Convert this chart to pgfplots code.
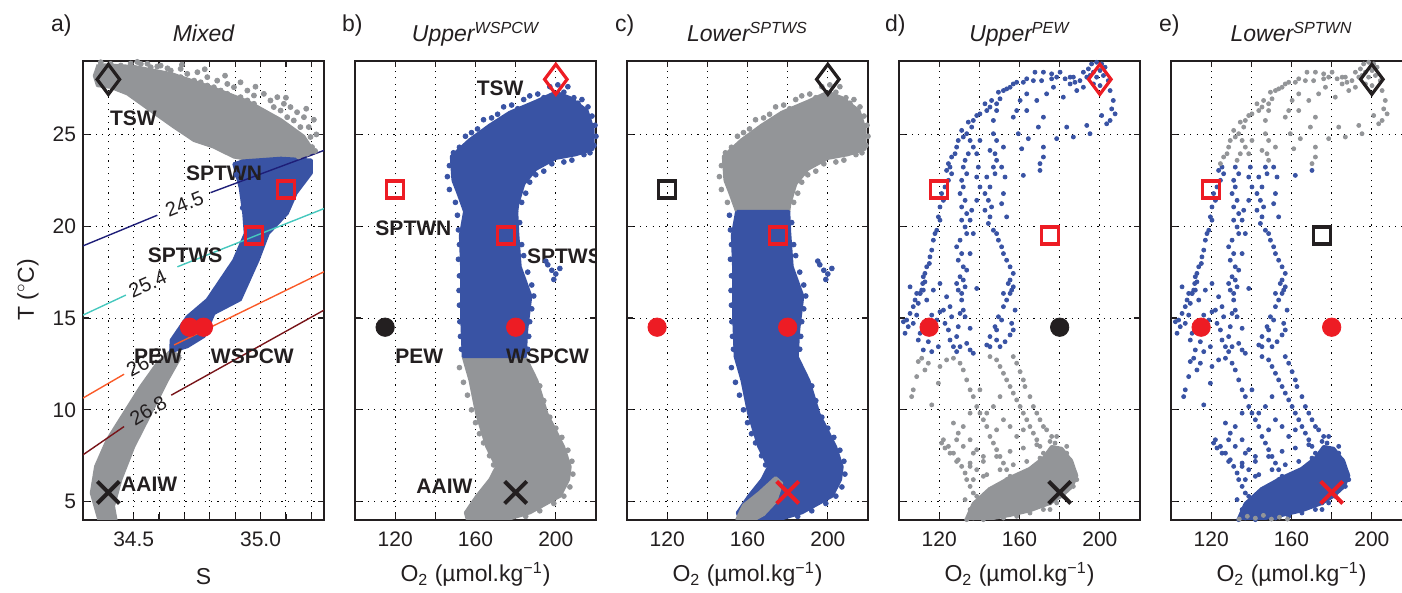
\documentclass[border=0pt]{standalone}
\usepackage{fontspec}
\setmainfont{Liberation Sans}
\usepackage{pgfplots}
\pgfplotsset{compat=1.18}
\usepackage{pgfplotstable}

\definecolor{blueS}{RGB}{57,83,164}
\definecolor{grayS}{RGB}{147,149,152}
\definecolor{redM}{RGB}{237,28,36}
\definecolor{blackM}{RGB}{35,31,32}
\definecolor{isoA}{RGB}{30,30,120}
\definecolor{isoB}{RGB}{70,200,190}
\definecolor{isoC}{RGB}{250,90,40}
\definecolor{isoD}{RGB}{120,20,25}

% ---------- panel a: T-S ----------
\pgfplotstableread{
x y
34.360 28.80
34.500 28.70
34.650 28.30
34.800 27.60
34.950 26.80
35.080 25.80
35.170 24.90
35.203 24.20
35.203 23.95
35.131 23.59
35.052 23.41
34.974 23.59
34.895 23.77
34.816 24.31
34.738 24.67
34.659 25.40
34.567 26.30
34.475 27.21
34.409 27.57
34.357 27.66
34.345 28.20
34.360 28.80
}\aGrayPoly

\pgfplotstableread{
x y
34.370 28.93
34.409 28.84
34.449 28.75
34.488 28.86
34.528 28.84
34.567 28.66
34.606 28.75
34.646 28.48
34.685 28.57
34.711 28.30
34.751 28.39
34.790 28.12
34.829 27.93
34.869 27.75
34.895 27.57
34.921 27.84
34.948 27.39
34.974 27.12
35.013 27.21
35.039 26.85
35.066 27.03
35.092 26.67
35.118 26.49
35.144 26.21
35.171 25.94
35.190 25.40
35.197 24.86
35.203 24.31
35.157 25.40
35.131 25.76
35.105 25.94
35.079 26.30
35.052 26.49
34.974 26.67
34.948 26.85
34.921 27.03
34.869 27.21
34.843 27.39
34.816 27.57
34.790 27.66
34.764 27.84
34.738 27.93
34.685 28.12
34.633 28.60
34.593 28.70
34.554 28.85
34.514 28.95
34.690 28.80
34.780 28.55
34.860 28.20
34.980 27.60
35.100 27.00
35.180 26.40
35.210 25.80
35.220 25.00
35.184 23.95
35.092 23.95
35.026 24.31
35.105 24.49
35.215 24.10
35.150 23.80
}\aGrayPts

\pgfplotstableread{
x y
34.930 23.55
35.080 23.70
35.200 23.60
35.200 22.90
35.140 21.80
35.105 20.70
35.030 19.60
34.990 18.15
34.920 16.00
34.816 15.25
34.777 14.00
34.711 13.44
34.646 13.17
34.648 13.80
34.711 15.07
34.790 16.00
34.895 18.15
34.940 19.60
34.934 20.70
34.920 22.10
34.895 23.40
34.930 23.55
}\aBluePoly

\pgfplotstableread{
x y
35.170 23.10
35.160 22.50
34.930 21.00
34.950 19.00
34.970 18.50
34.900 17.20
34.880 17.50
34.905 22.80
35.190 23.30
}\aBluePts

\pgfplotstableread{
x y
34.685 12.90
34.633 11.63
34.567 9.82
34.500 8.00
34.449 6.20
34.420 4.75
34.430 4.00
34.363 4.00
34.333 5.47
34.350 6.92
34.396 8.37
34.462 9.82
34.528 11.27
34.593 12.53
34.646 13.20
34.685 12.90
}\aTail

% ---------- panels b and c: profiles in the upper layers ----------
\pgfplotstableread{
x y
148.8 22.5
148.0 23.8
157.0 24.7
167.0 25.5
177.0 26.2
190.0 26.8
200.0 27.3
207.0 27.0
215.5 26.3
218.5 25.3
218.5 24.2
210.0 23.9
200.0 23.7
190.0 23.1
184.0 22.3
181.0 21.2
180.5 20.8
154.6 20.8
151.3 21.8
148.8 22.5
}\archPoly

\pgfplotstableread{
x y
154.6 20.8
180.5 20.8
181.0 19.6
182.2 17.8
187.5 16.2
185.5 14.4
184.7 12.9
153.9 12.9
153.1 15.25
153.1 17.8
152.5 19.5
154.6 20.8
}\midPoly

\pgfplotstableread{
x y
184.7 12.9
190.5 11.6
195.5 9.8
203.8 8.0
207.1 6.9
206.3 6.2
202.1 5.3
187.2 4.4
175.0 4.0
156.0 4.0
155.0 4.4
160.6 5.3
167.2 6.2
170.5 6.9
165.6 8.0
160.6 9.8
157.3 11.6
153.9 12.9
184.7 12.9
}\lowPoly

\pgfplotstableread{
x y
154.6 4.0
158.0 4.8
166.0 5.5
174.0 6.3
177.0 6.0
174.0 5.0
168.0 4.3
163.0 4.0
154.6 4.0
}\footPoly

\pgfplotstableread{
x y
147.0 23.3
149.0 24.0
152.0 24.3
155.0 24.9
158.0 25.1
161.0 25.3
164.0 25.8
168.0 25.9
171.0 26.1
174.0 26.5
178.0 26.6
181.0 26.4
184.0 26.9
187.0 27.1
191.0 27.2
194.0 27.0
197.0 27.6
201.0 27.7
204.0 27.3
206.0 27.6
209.0 27.0
211.0 26.7
213.0 26.9
216.0 26.5
218.0 26.0
219.5 25.5
220.0 24.9
219.0 24.4
217.0 24.0
214.0 23.9
212.0 24.2
208.0 23.6
204.0 23.5
198.0 23.4
194.0 23.0
190.0 22.8
187.0 22.4
185.0 21.8
183.0 21.3
182.0 20.2
183.0 19.0
184.0 18.4
146.0 22.7
147.0 22.0
150.0 21.3
151.0 20.6
151.5 19.8
152.0 19.0
151.5 18.2
152.0 17.3
151.8 16.5
152.0 15.7
152.2 14.8
152.5 14.0
153.0 13.3
186.0 17.5
188.0 16.8
189.0 16.2
188.0 15.5
187.0 14.8
186.5 14.0
186.0 13.3
196.0 17.9
198.0 17.6
200.0 17.4
202.0 17.7
199.0 17.1
195.0 18.1
192.0 11.3
194.0 10.5
197.0 9.6
200.0 9.0
203.0 8.5
206.0 7.8
208.0 7.2
208.5 6.5
207.0 5.8
204.0 5.3
199.0 4.9
192.0 4.5
185.0 4.2
152.0 12.3
154.0 11.5
156.0 10.8
158.0 10.0
160.0 9.3
162.0 8.7
164.0 8.2
167.0 7.5
169.0 7.0
}\bcDots

% ---------- panels d and e: profiles through the PEW ----------
\pgfplotstableread{
x y
195.9 28.84
198.4 28.93
200.9 28.84
202.6 28.66
200.1 28.48
196.8 28.39
195.1 28.21
198.4 28.12
201.8 28.21
204.2 27.93
200.1 27.66
196.8 27.75
193.5 28.12
191.8 28.39
190.1 27.93
186.8 28.12
185.2 27.75
188.5 27.39
191.8 27.57
194.3 28.57
185.2 28.12
187.6 27.84
205.1 27.39
206.7 26.85
205.9 26.39
207.6 26.12
203.4 25.58
205.1 25.76
200.9 26.03
167.7 28.39
171.9 28.39
176.0 28.30
180.2 28.39
176.0 28.03
171.0 27.93
166.9 27.93
163.6 28.03
161.9 27.84
158.6 27.84
156.9 27.75
155.3 27.57
153.6 27.48
152.0 27.39
149.5 27.30
150.3 26.94
148.6 26.67
146.1 26.85
145.3 26.49
143.7 26.30
142.8 26.67
140.3 26.12
138.7 26.03
137.0 25.76
136.2 25.40
134.5 25.67
133.7 25.04
132.0 24.86
131.2 25.22
129.5 24.67
128.7 24.31
127.9 23.95
126.2 23.77
124.6 23.41
125.4 23.22
123.7 23.04
126.2 22.86
124.6 22.50
122.9 22.14
121.2 21.78
122.1 21.41
120.4 21.05
119.6 20.51
120.4 20.33
118.8 19.78
117.9 19.60
117.1 19.24
116.3 18.70
115.4 18.33
115.1 17.97
113.8 17.79
112.9 17.43
112.1 17.25
111.8 16.88
111.3 16.52
110.5 16.34
135.4 24.67
137.0 24.31
134.5 23.95
132.9 23.59
132.0 23.22
133.7 22.86
131.2 22.50
132.0 22.14
130.4 21.78
132.9 21.41
131.2 21.05
133.7 20.69
131.2 20.33
132.9 19.96
133.7 19.60
130.4 19.24
128.7 18.88
131.2 18.51
129.5 18.15
132.0 17.79
133.7 17.61
130.4 17.25
128.7 16.88
132.9 16.70
131.2 16.34
140.3 24.67
138.7 23.95
139.5 23.22
138.7 22.68
140.3 22.14
138.7 21.41
136.2 20.87
135.4 20.33
137.0 19.60
135.4 18.51
148.6 26.30
147.0 25.76
147.0 25.04
148.6 24.67
145.3 24.13
147.8 23.95
148.6 23.59
147.0 23.22
147.8 22.86
143.7 22.68
145.3 22.14
142.8 21.78
144.5 21.41
146.1 21.05
142.8 20.87
145.3 20.51
144.5 20.15
147.0 19.78
148.6 19.60
149.5 19.24
151.1 18.88
152.0 18.51
153.6 18.15
155.3 17.79
156.9 17.43
154.4 16.88
156.1 16.52
152.0 16.34
152.0 24.31
151.1 23.22
152.8 22.68
152.0 21.78
151.1 21.23
153.6 20.51
163.6 26.30
168.6 26.85
173.5 27.21
176.9 27.57
181.8 27.03
178.5 28.12
182.7 28.03
171.9 25.94
169.4 25.40
164.4 24.77
171.9 24.31
171.9 23.77
170.2 23.41
170.2 23.04
161.9 22.77
178.5 24.77
183.5 25.40
186.8 24.86
193.5 25.49
195.1 25.04
158.6 26.30
160.3 26.85
163.6 27.21
156.9 25.94
159.4 25.04
161.1 24.22
112.9 16.97
112.1 16.52
110.5 16.34
108.0 15.98
109.6 15.80
107.1 15.62
105.5 15.25
108.8 15.16
104.6 14.53
103.8 14.89
109.6 13.80
112.1 13.26
114.6 13.71
116.3 15.16
120.4 15.34
122.1 15.43
116.3 13.17
119.6 13.44
124.6 14.35
125.4 13.80
127.1 13.44
128.7 13.99
129.5 14.53
130.4 15.25
132.0 15.43
131.2 15.98
129.5 16.52
132.0 17.07
132.9 15.07
135.4 14.44
133.7 13.62
135.4 13.26
128.7 13.17
137.0 13.08
138.7 16.61
143.7 13.53
145.3 13.99
147.8 14.53
149.5 15.07
152.0 15.62
153.6 15.98
155.3 16.34
156.9 16.70
155.3 17.07
157.8 15.43
156.1 14.71
156.9 14.35
155.3 14.08
152.8 13.71
150.3 13.44
148.6 14.35
151.1 14.89
126.2 15.07
122.9 14.71
130.4 13.44
145.3 13.44
148.6 13.80
105.5 16.70
108.8 16.34
113.8 15.98
117.1 16.52
120.4 16.88
123.7 16.16
125.4 15.62
118.8 14.89
115.4 14.35
110.5 14.17
107.1 14.71
102.2 14.80
103.0 14.17
109.6 12.63
108.8 11.81
107.1 11.09
106.3 10.72
116.3 10.27
119.6 11.45
123.7 12.72
120.4 12.36
114.6 12.54
112.9 12.17
111.3 12.81
127.1 12.81
130.4 12.54
132.0 12.17
133.7 11.63
135.4 11.09
137.0 10.72
138.7 10.18
140.3 9.82
142.0 9.46
143.7 9.09
145.3 8.55
147.0 8.19
148.6 7.83
150.3 7.46
152.0 7.10
153.6 6.74
155.3 6.38
156.9 6.01
158.6 5.65
160.3 5.29
145.3 12.90
148.6 12.72
150.3 12.36
152.0 11.99
153.6 11.63
155.3 11.27
156.9 10.91
158.6 10.54
160.3 10.18
161.9 9.82
163.6 9.46
165.2 9.09
166.9 8.73
168.6 8.37
170.2 8.01
171.9 7.64
173.5 7.28
175.2 6.92
176.9 6.56
178.5 6.20
180.2 5.83
156.9 12.90
158.6 12.54
160.3 12.08
161.9 11.63
162.7 11.27
165.2 10.72
166.9 10.18
168.6 9.82
170.2 9.46
171.9 9.09
173.5 8.91
176.0 8.55
177.7 8.19
179.3 7.83
181.0 7.46
182.7 6.92
185.2 6.74
187.6 6.56
188.5 6.20
185.2 5.83
181.8 5.29
178.5 4.93
175.2 4.57
133.7 4.02
135.4 4.38
137.0 4.75
140.3 5.11
143.7 5.47
148.6 5.83
153.6 6.20
158.6 6.38
163.6 6.56
168.6 6.74
173.5 6.92
142.0 4.02
148.6 4.20
155.3 4.38
161.9 4.57
168.6 4.75
175.2 4.93
122.1 8.37
124.6 8.01
127.1 7.64
129.5 7.28
131.2 6.92
132.9 6.56
133.7 6.20
135.4 5.83
137.0 5.47
132.9 5.11
135.4 4.57
128.7 8.37
135.4 8.37
132.0 8.01
138.7 7.83
142.0 7.46
135.4 7.10
138.7 6.74
142.0 6.38
137.0 7.64
135.4 6.92
142.0 7.19
148.6 7.46
155.3 7.74
161.9 7.92
168.6 8.10
175.2 8.28
137.0 6.20
143.7 6.47
150.3 6.74
156.9 7.01
163.6 7.19
170.2 7.37
176.9 7.55
183.5 7.64
138.7 5.29
145.3 5.65
152.0 5.92
158.6 6.11
165.2 6.29
171.9 6.38
178.5 6.47
185.2 6.38
140.3 4.38
147.0 4.66
153.6 4.84
160.3 5.02
166.9 5.11
173.5 5.29
180.2 5.47
186.8 5.83
137.0 4.11
145.3 4.29
152.0 4.11
158.6 4.20
165.2 4.38
171.9 4.57
143.7 9.82
147.0 10.18
152.0 9.46
155.3 9.09
148.6 8.91
158.6 8.55
161.9 8.91
150.3 10.72
140.3 11.09
135.4 9.82
132.0 9.09
127.1 9.28
129.5 8.73
121.2 8.19
122.9 7.92
125.4 7.64
128.7 7.19
185.2 7.28
183.5 8.01
178.5 8.55
}\dePts

\pgfplotstableread{
x y
133.7 4.10
137.0 4.90
145.0 5.70
155.0 6.30
165.0 6.80
172.0 7.40
176.0 8.00
181.0 7.90
186.0 7.20
188.5 6.40
186.0 5.80
181.0 5.30
175.0 4.90
165.0 4.50
155.0 4.25
145.0 4.05
133.7 4.10
}\deBand

\pgfplotstableread{
x y
134.0 4.05
138.0 4.20
142.0 4.10
146.0 4.25
150.0 4.05
154.0 4.15
158.0 4.05
}\eFloor

\pgfplotsset{
  panel/.style={
    width=120.5pt, height=229.5pt, scale only axis, anchor=south west,
    ymin=4, ymax=29, ytick={5,10,15,20,25},
    grid=major,
    grid style={black, line width=0.45pt, dash pattern=on 0.6pt off 2.6pt},
    axis line style={line width=0.9pt, blackM},
    tick style={blackM, line width=0.6pt},
    major tick length=3pt, tick align=inside,
    ticklabel style={font=\fontsize{10.5}{12}\selectfont, text=blackM},
    xticklabel style={yshift=-2.5pt},
    /pgf/number format/assume math mode=true,
  },
  oxy/.style={panel, xmin=100, xmax=220, xtick={120,140,160,180,200},
    xticklabels={120,,160,,200}, yticklabels={}},
  poly/.style={no markers, line width=1.6pt, line join=round, draw=#1, fill=#1},
  dots/.style={only marks, mark=*, mark size=#1},
  diam/.style={only marks, mark=diamond, mark size=7.5pt,
    mark options={line width=1.6pt, draw=#1, fill=none}},
  sq/.style={only marks, mark=square, mark size=4.25pt,
    mark options={line width=1.6pt, draw=#1, fill=none}},
  dot/.style={only marks, mark=*, mark size=4.6pt,
    mark options={draw=#1, fill=#1}},
  cross/.style={only marks, mark=x, mark size=7.8pt,
    mark options={line width=2pt, draw=#1}},
}
\tikzset{
  note/.style={anchor=west, inner sep=0pt, text=blackM,
    font=\bfseries\fontsize{10.5}{12}\selectfont},
  iso/.style={font=\fontsize{10}{12}\selectfont, text=blackM},
}

\begin{document}
\begin{tikzpicture}
\useasboundingbox (0,0) rectangle (701pt,296.5pt);

% a) Mixed
\begin{axis}[panel, at={(41.5pt,36.5pt)},
  xmin=34.3, xmax=35.25,
  xtick={34.4,34.5,34.6,34.7,34.8,34.9,35.0,35.1,35.2},
  xticklabels={,34.5,,,,,35.0,,}]
\addplot[poly=grayS] table {\aGrayPoly};
\addplot[dots=1.25pt, grayS] table {\aGrayPts};
\addplot[poly=grayS] table {\aTail};
\addplot[poly=blueS] table {\aBluePoly};
\addplot[dots=1.25pt, blueS] table {\aBluePts};
\addplot[isoA, line width=0.7pt, no markers] coordinates {(34.3,18.93) (34.593,20.6)};
\addplot[isoA, line width=0.7pt, no markers] coordinates {(34.803,21.83) (35.25,24.13)};
\addplot[isoB, line width=0.7pt, no markers] coordinates {(34.3,15.16) (34.469,16.25)};
\addplot[isoB, line width=0.7pt, no markers] coordinates {(34.672,17.79) (35.25,20.96)};
\addplot[isoC, line width=0.7pt, no markers] coordinates {(34.3,10.64) (34.462,11.94)};
\addplot[isoC, line width=0.7pt, no markers] coordinates {(34.659,13.53) (35.25,17.52)};
\addplot[isoD, line width=0.7pt, no markers] coordinates {(34.3,7.55) (34.462,9.09)};
\addplot[isoD, line width=0.7pt, no markers] coordinates {(34.648,10.8) (35.25,15.43)};
\node[iso, rotate=22] at (axis cs:34.700,21.2) {24.5};
\node[iso, rotate=24] at (axis cs:34.555,16.85) {25.4};
\node[iso, rotate=28] at (axis cs:34.545,12.6) {26.3};
\node[iso, rotate=31] at (axis cs:34.557,9.95) {26.8};
\addplot[diam=blackM] coordinates {(34.40,28)};
\addplot[sq=redM] coordinates {(35.10,22) (34.975,19.5)};
\addplot[dot=redM] coordinates {(34.72,14.5) (34.775,14.5)};
\addplot[cross=blackM] coordinates {(34.40,5.5)};
\node[note] at (axis cs:34.405,25.9) {TSW};
\node[note] at (axis cs:34.705,22.9) {SPTWN};
\node[note] at (axis cs:34.554,18.42) {SPTWS};
\node[note] at (axis cs:34.500,12.9) {PEW};
\node[note] at (axis cs:34.803,12.9) {WSPCW};
\node[note] at (axis cs:34.449,5.92) {AAIW};
\end{axis}

% b) Upper WSPCW
\begin{axis}[oxy, at={(177.5pt,36.5pt)}]
\addplot[poly=grayS] table {\lowPoly};
\addplot[dots=1.2pt, grayS, restrict y to domain=0:13] table {\bcDots};
\addplot[poly=blueS] table {\archPoly};
\addplot[poly=blueS] table {\midPoly};
\addplot[dots=1.2pt, blueS, restrict y to domain=13:30] table {\bcDots};
\addplot[diam=redM] coordinates {(200,28)};
\addplot[sq=redM] coordinates {(120,22) (175,19.5)};
\addplot[dot=blackM] coordinates {(115,14.5)};
\addplot[dot=redM] coordinates {(180,14.5)};
\addplot[cross=blackM] coordinates {(180,5.5)};
\node[note] at (axis cs:160.5,27.5) {TSW};
\node[note] at (axis cs:110,19.9) {SPTWN};
\node[note] at (axis cs:185.5,18.37) {SPTWS};
\node[note] at (axis cs:119.9,12.93) {PEW};
\node[note] at (axis cs:175,12.93) {WSPCW};
\node[note] at (axis cs:130.4,5.83) {AAIW};
\end{axis}

% c) Lower SPTWS
\begin{axis}[oxy, at={(313.5pt,36.5pt)}]
\addplot[poly=grayS] table {\archPoly};
\addplot[dots=1.2pt, grayS, restrict y to domain=20.8:30] table {\bcDots};
\addplot[poly=blueS] table {\midPoly};
\addplot[poly=blueS] table {\lowPoly};
\addplot[dots=1.2pt, blueS, restrict y to domain=0:20.8] table {\bcDots};
\addplot[poly=grayS] table {\footPoly};
\addplot[diam=blackM] coordinates {(200,28)};
\addplot[sq=blackM] coordinates {(120,22)};
\addplot[sq=redM] coordinates {(175,19.5)};
\addplot[dot=redM] coordinates {(115,14.5) (180,14.5)};
\addplot[cross=redM] coordinates {(180,5.5)};
\end{axis}

% d) Upper PEW
\begin{axis}[oxy, at={(449.5pt,36.5pt)}]
\addplot[poly=grayS] table {\deBand};
\addplot[dots=1pt, grayS, restrict y to domain=0:13] table {\dePts};
\addplot[dots=1pt, blueS, restrict y to domain=13:30] table {\dePts};
\addplot[diam=redM] coordinates {(200,28)};
\addplot[sq=redM] coordinates {(120,22) (175,19.5)};
\addplot[dot=redM] coordinates {(115,14.5)};
\addplot[dot=blackM] coordinates {(180,14.5)};
\addplot[cross=blackM] coordinates {(180,5.5)};
\end{axis}

% e) Lower SPTWN
\begin{axis}[oxy, at={(585.5pt,36.5pt)}]
\addplot[poly=blueS] table {\deBand};
\addplot[dots=1pt, blueS, restrict y to domain=0:23.3] table {\dePts};
\addplot[dots=1pt, grayS, restrict y to domain=23.3:30] table {\dePts};
\addplot[dots=1pt, grayS] table {\eFloor};
\addplot[diam=blackM] coordinates {(200,28)};
\addplot[sq=redM] coordinates {(120,22)};
\addplot[sq=blackM] coordinates {(175,19.5)};
\addplot[dot=redM] coordinates {(115,14.5) (180,14.5)};
\addplot[cross=redM] coordinates {(180,5.5)};
\end{axis}

% panel letters, titles, axis labels
\begin{scope}[every node/.style={text=blackM, font=\fontsize{11.5}{13}\selectfont}]
\node[anchor=base west] at (22pt,280.75pt) {a)};
\node[anchor=base west] at (167.5pt,280.75pt) {b)};
\node[anchor=base west] at (304pt,280.75pt) {c)};
\node[anchor=base west] at (439pt,280.75pt) {d)};
\node[anchor=base west] at (576pt,280.75pt) {e)};
\node[anchor=base] at (101.75pt,275.5pt) {\itshape Mixed};
\node[anchor=base] at (237.75pt,275.5pt) {\itshape Upper\textsuperscript{WSPCW}};
\node[anchor=base] at (373.75pt,275.5pt) {\itshape Lower\textsuperscript{SPTWS}};
\node[anchor=base] at (509.75pt,275.5pt) {\itshape Upper\textsuperscript{PEW}};
\node[anchor=base] at (645.75pt,275.5pt) {\itshape Lower\textsuperscript{SPTWN}};
\node[anchor=base] at (101.75pt,4pt) {S};
\node[anchor=base] at (237.75pt,5.6pt) {O\textsubscript{2} (µmol.kg\textsuperscript{−1})};
\node[anchor=base] at (373.75pt,5.6pt) {O\textsubscript{2} (µmol.kg\textsuperscript{−1})};
\node[anchor=base] at (509.75pt,5.6pt) {O\textsubscript{2} (µmol.kg\textsuperscript{−1})};
\node[anchor=base] at (645.75pt,5.6pt) {O\textsubscript{2} (µmol.kg\textsuperscript{−1})};
\node[rotate=90] at (14pt,151.5pt) {T (\textsuperscript{$\circ$}C)};
\end{scope}
\end{tikzpicture}
\end{document}
